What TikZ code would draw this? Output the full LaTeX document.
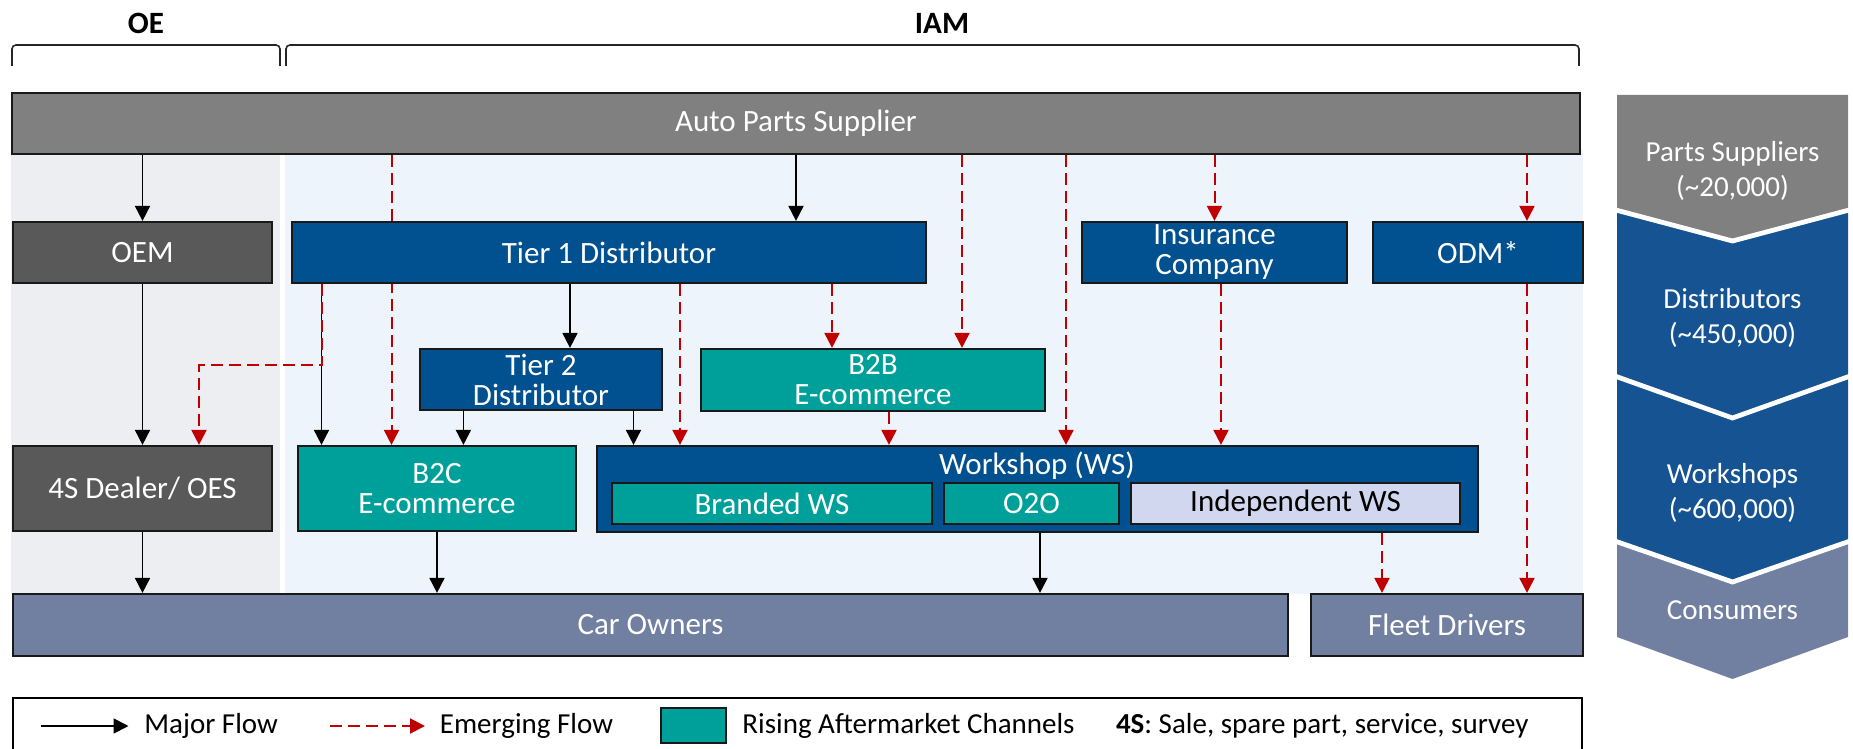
\documentclass[tikz,border=0pt]{standalone}
\usepackage{fontspec}
\setmainfont{Carlito}
\usetikzlibrary{arrows.meta}

\definecolor{barGray}{HTML}{808080}
\definecolor{darkGray}{HTML}{595959}
\definecolor{navy}{HTML}{01508F}
\definecolor{chevBlue}{HTML}{165393}
\definecolor{chanTeal}{HTML}{00A09A}
\definecolor{ownerBlue}{HTML}{7180A1}
\definecolor{indepLav}{HTML}{D0D7EE}
\definecolor{oeBack}{HTML}{EDEEF2}
\definecolor{iamBack}{HTML}{EDF4FB}
\definecolor{flowRed}{HTML}{C00000}

\pgfdeclarelayer{backdrop}
\pgfdeclarelayer{links}
\pgfsetlayers{backdrop,links,main}

\begin{document}
\begin{tikzpicture}[x=0.5pt,y=-0.5pt,
  box/.style={draw=black!90, line width=1.1pt, rectangle, inner sep=0pt,
    align=center, text=white, font=\fontsize{15.5}{15}\selectfont},
  sub/.style={draw=black!90, line width=0.9pt, rectangle, inner sep=0pt,
    align=center, font=\fontsize{15.5}{15}\selectfont},
  major/.style={draw=black, line width=0.9pt, -{Triangle[width=7.5pt,length=7.5pt]}},
  emerg/.style={draw=flowRed, line width=1pt, dash pattern=on 6pt off 3pt,
    -{Triangle[width=7.5pt,length=7.5pt]}},
  chevtext/.style={text=white, align=center, inner sep=0pt,
    font=\fontsize{14.5}{17.5}\selectfont},
  legtext/.style={anchor=west, inner sep=0pt, font=\fontsize{14.5}{17}\selectfont},
  head/.style={inner sep=0pt, font=\bfseries\fontsize{15.5}{18}\selectfont},
  bracket/.style={draw=black!85, line width=0.8pt, rounded corners=2pt}
]
\useasboundingbox (0,0) rectangle (1853,749);
\clip (0,0) rectangle (1853,749);

% ---------- section backgrounds ----------
\begin{pgfonlayer}{backdrop}
  \fill[oeBack] (11,150) rectangle (280,594);
  \fill[iamBack] (285,150) rectangle (1583,594);
\end{pgfonlayer}

% ---------- headers and brackets ----------
\node[head] (oeHead) at (146,23) {OE};
\node[head] (iamHead) at (942,23) {IAM};
\draw[bracket] (12,66) -- (12,45) -- (280,45) -- (280,66);
\draw[bracket] (286,66) -- (286,45) -- (1579,45) -- (1579,66);

% ---------- boxes ----------
\node[box, fill=barGray, minimum width=784pt, minimum height=30.5pt] (auto) at (796,123.5) {Auto Parts Supplier};

\node[box, fill=darkGray, minimum width=129.5pt, minimum height=30.5pt] (oem) at (142.5,252.5) {OEM};
\node[box, fill=navy, minimum width=317pt, minimum height=30.5pt] (tier1) at (609,252.5) {Tier 1 Distributor};
\node[box, fill=navy, minimum width=132.5pt, minimum height=30.5pt] (ins) at (1214.5,252.5) {Insurance\\Company};
\node[box, fill=navy, minimum width=105pt, minimum height=30.5pt] (odm) at (1478,252.5) {ODM*};

\node[box, fill=navy, minimum width=121pt, minimum height=30.5pt] (tier2) at (541,379.5) {Tier 2\\Distributor};
\node[box, fill=chanTeal, minimum width=172pt, minimum height=31pt] (b2b) at (873,380) {B2B\\E-commerce};

\node[box, fill=darkGray, minimum width=129.5pt, minimum height=42.5pt] (dealer) at (142.5,488.5) {4S Dealer/ OES};
\node[box, fill=chanTeal, minimum width=139pt, minimum height=42.5pt] (b2c) at (437,488.5) {B2C\\E-commerce};
\node[box, fill=navy, minimum width=440.5pt, minimum height=43pt] (ws) at (1037.5,489) {};
\node[text=white, inner sep=0pt, font=\fontsize{15.5}{15}\selectfont] (wsLabel) at (1037,466) {Workshop (WS)};
\node[sub, fill=chanTeal, text=white, minimum width=160pt, minimum height=20.5pt] (branded) at (772,503.5) {Branded WS};
\node[sub, fill=chanTeal, text=white, minimum width=87.5pt, minimum height=20.5pt] (o2o) at (1031.5,503.5) {O2O};
\node[sub, fill=indepLav, text=black, minimum width=164.5pt, minimum height=20.5pt] (indep) at (1295.5,503.5) {Independent WS};

\node[box, fill=ownerBlue, minimum width=637.5pt, minimum height=31pt] (car) at (650.5,625) {Car Owners};
\node[box, fill=ownerBlue, minimum width=136pt, minimum height=31pt] (fleet) at (1447,625) {Fleet Drivers};

% ---------- columns used by the flow lines ----------
\coordinate (xTierB2C) at (321.5,0);
\coordinate (xDealer) at (199,0);
\coordinate (xAutoB2C) at (391.5,0);
\coordinate (xTwoB2C) at (463.4,0);
\coordinate (xTwo) at (570,0);
\coordinate (xTwoWS) at (633.5,0);
\coordinate (xTierWS) at (680,0);
\coordinate (xTierB2B) at (832,0);
\coordinate (xB2BWS) at (889,0);
\coordinate (xAutoB2B) at (962,0);
\coordinate (xAutoWS) at (1066,0);
\coordinate (xInsWS) at (1221,0);
\coordinate (xWSFleet) at (1382,0);
\coordinate (xODM) at (1527,0);
\coordinate (xWSCar) at (1040,0);

% ---------- flows ----------
\begin{pgfonlayer}{links}
  % major flows
  \draw[major] (auto.south -| oem.north) -- (oem.north);
  \draw[major] (auto.south) -- (auto.south |- tier1.north);
  \draw[major] (oem.south) -- (dealer.north);
  \draw[major] (tier1.south -| xTierB2C) -- (b2c.north -| xTierB2C);
  \draw[major] (tier1.south -| xTwo) -- (tier2.north -| xTwo);
  \draw[major] (tier2.south -| xTwoB2C) -- (b2c.north -| xTwoB2C);
  \draw[major] (tier2.south -| xTwoWS) -- (ws.north -| xTwoWS);
  \draw[major] (dealer.south) -- (dealer.south |- car.north);
  \draw[major] (b2c.south) -- (b2c.south |- car.north);
  \draw[major] (ws.south -| xWSCar) -- (car.north -| xWSCar);
  % emerging flows
  \draw[emerg] (tier1.south -| xTierB2C) -- ++(0,81) -| (dealer.north -| xDealer);
  \draw[emerg] (auto.south -| xAutoB2C) -- (b2c.north -| xAutoB2C);
  \draw[emerg] (tier1.south -| xTierWS) -- (ws.north -| xTierWS);
  \draw[emerg] (tier1.south -| xTierB2B) -- (b2b.north -| xTierB2B);
  \draw[emerg] (auto.south -| xAutoB2B) -- (b2b.north -| xAutoB2B);
  \draw[emerg] (b2b.south -| xB2BWS) -- (ws.north -| xB2BWS);
  \draw[emerg] (auto.south -| xAutoWS) -- (ws.north -| xAutoWS);
  \draw[emerg] (auto.south -| ins.north) -- (ins.north);
  \draw[emerg] (ins.south -| xInsWS) -- (ws.north -| xInsWS);
  \draw[emerg] (auto.south -| xODM) -- (odm.north -| xODM);
  \draw[emerg] (odm.south -| xODM) -- (fleet.north -| xODM);
  \draw[emerg] (ws.south -| xWSFleet) -- (fleet.north -| xWSFleet);
\end{pgfonlayer}

% ---------- value chain chevrons ----------
\fill[barGray] (1617,95) -- (1848,95) -- (1848,209) -- (1732.5,241) -- (1617,209) -- cycle;
\fill[chevBlue] (1617,209) -- (1732.5,241) -- (1848,209) -- (1848,375) -- (1732.5,418) -- (1617,375) -- cycle;
\fill[chevBlue] (1617,375) -- (1732.5,418) -- (1848,375) -- (1848,540) -- (1732.5,582) -- (1617,540) -- cycle;
\fill[ownerBlue] (1617,540) -- (1732.5,582) -- (1848,540) -- (1848,637) -- (1732.5,679) -- (1617,637) -- cycle;
\draw[white, line width=2.4pt] (1612,209) -- (1732.5,241) -- (1853,209);
\draw[white, line width=2.4pt] (1612,375) -- (1732.5,418) -- (1853,375);
\draw[white, line width=2.4pt] (1612,540) -- (1732.5,582) -- (1853,540);
\node[chevtext] (chevSup) at (1732.5,170.5) {Parts Suppliers\\(\textasciitilde 20,000)};
\node[chevtext] (chevDist) at (1732.5,317.5) {Distributors\\(\textasciitilde 450,000)};
\node[chevtext] (chevWS) at (1732.5,493) {Workshops\\(\textasciitilde 600,000)};
\node[chevtext] (chevCons) at (1732.5,610) {Consumers};

% ---------- legend ----------
\draw[black, line width=0.9pt] (13,698) rectangle (1582,762);
\coordinate (legMajA) at (41,726);
\coordinate (legMajB) at (128.5,726);
\coordinate (legEmA) at (330,726);
\coordinate (legEmB) at (425,726);
\draw[major] (legMajA) -- (legMajB);
\draw[emerg] (legEmA) -- (legEmB);
\node[legtext] (legMajT) at (144,726) {Major Flow};
\node[legtext] (legEmT) at (439.5,726) {Emerging Flow};
\node[draw=black!90, line width=0.9pt, fill=chanTeal, minimum width=32.5pt, minimum height=17.5pt, inner sep=0pt] (legSwatch) at (693.3,725.7) {};
\node[legtext] (legRiseT) at (742,726) {Rising Aftermarket Channels};
\node[legtext] (leg4S) at (1115.6,726) {\textbf{4S}: Sale, spare part, service, survey};
\end{tikzpicture}
\end{document}
